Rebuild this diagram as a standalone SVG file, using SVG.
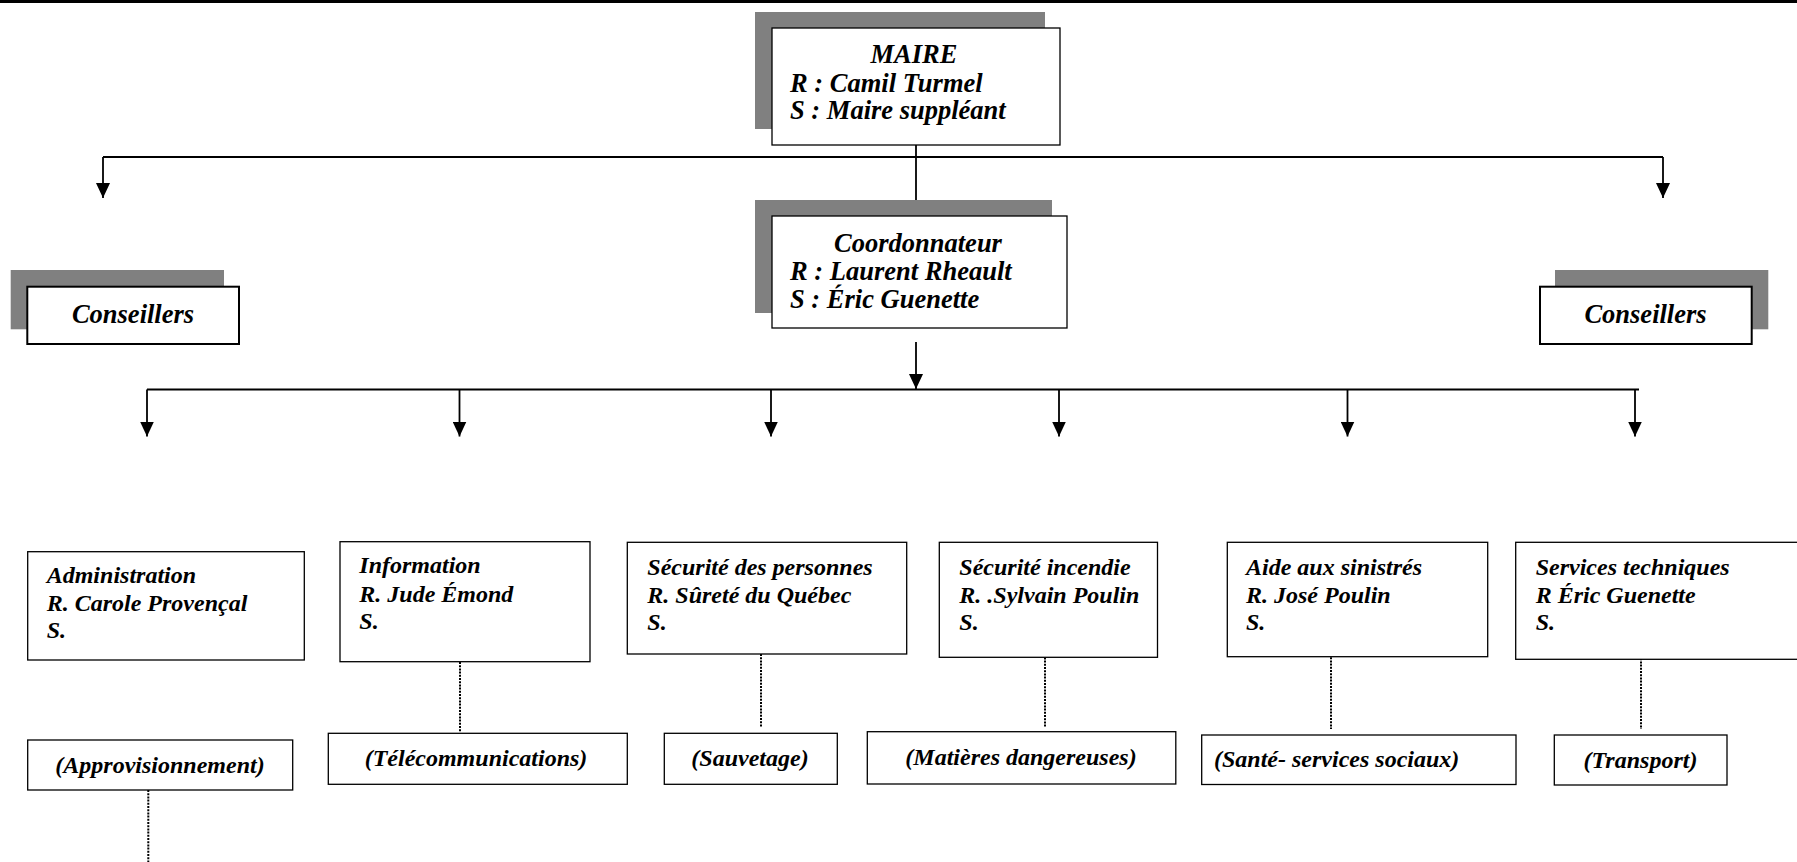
<svg xmlns="http://www.w3.org/2000/svg" width="1797" height="862" viewBox="0 0 1797 862">
<defs>
<marker id="arr" markerUnits="userSpaceOnUse" markerWidth="16" markerHeight="14" refX="15" refY="7" orient="auto"><path d="M0,0 L15,7 L0,14 z" fill="#000"/></marker>
<style>
.t{font-family:"Liberation Serif","Times New Roman",serif;font-weight:bold;font-style:italic;fill:#000}
.big{font-size:26.5px}
.sm{font-size:24px}
.mid{text-anchor:middle}
.box{fill:#fff;stroke:#000;stroke-width:1.3}
.cbox{fill:#fff;stroke:#000;stroke-width:2}
.shadow{fill:#808080}
.ln{stroke:#000;stroke-width:1.8;fill:none}
.dot{stroke:#000;stroke-width:2;stroke-dasharray:2 1.2;fill:none}
</style>
</defs>
<rect width="1797" height="862" fill="#fff"/>
<rect x="0" y="0" width="1797" height="3" fill="#000"/>

<g id="connectors">
<path class="ln" d="M916,145 V200"/>
<path class="ln" d="M103,157 H1663"/>
<path class="ln" d="M103,157 V198" marker-end="url(#arr)"/>
<path class="ln" d="M1663,157 V198" marker-end="url(#arr)"/>
<path class="ln" d="M916,342 V389" marker-end="url(#arr)"/>
<path class="ln" d="M147,389.5 H1639"/>
<path class="ln" d="M147,389.5 V436.5" marker-end="url(#arr)"/>
<path class="ln" d="M459.5,389.5 V436.5" marker-end="url(#arr)"/>
<path class="ln" d="M771,389.5 V436.5" marker-end="url(#arr)"/>
<path class="ln" d="M1059,389.5 V436.5" marker-end="url(#arr)"/>
<path class="ln" d="M1347.5,389.5 V436.5" marker-end="url(#arr)"/>
<path class="ln" d="M1635,389.5 V436.5" marker-end="url(#arr)"/>
<path class="dot" d="M460,662 V732"/>
<path class="dot" d="M761,654 V727"/>
<path class="dot" d="M1045,651 V727"/>
<path class="dot" d="M1331,654 V729"/>
<path class="dot" d="M1641,655 V729"/>
<path class="dot" d="M148.3,790 V862"/>
</g>

<g id="maire">
<rect class="shadow" x="755" y="12" width="290" height="117"/>
<rect class="box" x="772" y="28" width="288" height="117"/>
<text class="t big mid" x="914" y="63">MAIRE</text>
<text class="t big" x="790" y="91.5">R : Camil Turmel</text>
<text class="t big" x="790" y="119">S : Maire suppléant</text>
</g>

<g id="coordonnateur">
<rect class="shadow" x="755" y="200" width="297" height="113"/>
<rect class="box" x="772" y="216" width="295" height="112"/>
<text class="t big mid" x="918" y="252">Coordonnateur</text>
<text class="t big" x="790" y="280">R : Laurent Rheault</text>
<text class="t big" x="790" y="308">S : Éric Guenette</text>
</g>

<g id="conseillers-gauche">
<rect class="shadow" x="10.7" y="270" width="213.3" height="59.3"/>
<rect class="cbox" x="27.3" y="286.7" width="211.7" height="57.3"/>
<text class="t big mid" x="133" y="322.7">Conseillers</text>
</g>

<g id="conseillers-droite">
<rect class="shadow" x="1555" y="270" width="213.3" height="59.3"/>
<rect class="cbox" x="1540" y="286.7" width="211.7" height="57.3"/>
<text class="t big mid" x="1645.5" y="322.7">Conseillers</text>
</g>

<g id="administration">
<rect class="box" x="27.7" y="551.7" width="276.6" height="108.3"/>
<text class="t sm" x="46.7" y="583.3">Administration</text>
<text class="t sm" x="46.7" y="610.7">R. Carole Provençal</text>
<text class="t sm" x="46.7" y="638.3">S.</text>
</g>

<g id="approvisionnement">
<rect class="box" x="27.7" y="740" width="265" height="50"/>
<text class="t sm mid" x="160" y="773.3">(Approvisionnement)</text>
</g>

<g id="information">
<rect class="box" x="340" y="541.7" width="250" height="120"/>
<text class="t sm" x="359.3" y="573.3">Information</text>
<text class="t sm" x="359.3" y="601.7">R. Jude Émond</text>
<text class="t sm" x="359.3" y="629.3">S.</text>
</g>

<g id="telecommunications">
<rect class="box" x="328.3" y="733.3" width="299" height="51"/>
<text class="t sm mid" x="476" y="766">(Télécommunications)</text>
</g>

<g id="securite-personnes">
<rect class="box" x="627.3" y="542.3" width="279.4" height="111.7"/>
<text class="t sm" x="647.3" y="575">Sécurité des personnes</text>
<text class="t sm" x="647.3" y="602.7">R. Sûreté du Québec</text>
<text class="t sm" x="647.3" y="630">S.</text>
</g>

<g id="sauvetage">
<rect class="box" x="664.3" y="733.3" width="173" height="51"/>
<text class="t sm mid" x="750" y="766">(Sauvetage)</text>
</g>

<g id="securite-incendie">
<rect class="box" x="939.3" y="542.3" width="218.2" height="115"/>
<text class="t sm" x="959.3" y="575">Sécurité incendie</text>
<text class="t sm" x="959.3" y="602.7">R. .Sylvain Poulin</text>
<text class="t sm" x="959.3" y="630">S.</text>
</g>

<g id="matieres-dangereuses">
<rect class="box" x="867.3" y="731.7" width="308.5" height="52.3"/>
<text class="t sm mid" x="1021" y="764.5">(Matières dangereuses)</text>
</g>

<g id="aide-sinistres">
<rect class="box" x="1227.3" y="542.3" width="260.4" height="114.4"/>
<text class="t sm" x="1246" y="575">Aide aux sinistrés</text>
<text class="t sm" x="1246" y="602.7">R. José Poulin</text>
<text class="t sm" x="1246" y="630">S.</text>
</g>

<g id="sante">
<rect class="box" x="1201.7" y="735" width="314.3" height="49.5"/>
<text class="t sm" x="1214" y="767">(Santé- services sociaux)</text>
</g>

<g id="services-techniques">
<rect class="box" x="1515.7" y="542.3" width="300" height="117"/>
<text class="t sm" x="1535.7" y="575">Services techniques</text>
<text class="t sm" x="1535.7" y="602.7">R Éric Guenette</text>
<text class="t sm" x="1535.7" y="630">S.</text>
</g>

<g id="transport">
<rect class="box" x="1554.3" y="735" width="172.7" height="50"/>
<text class="t sm mid" x="1640.5" y="767.5">(Transport)</text>
</g>
</svg>
